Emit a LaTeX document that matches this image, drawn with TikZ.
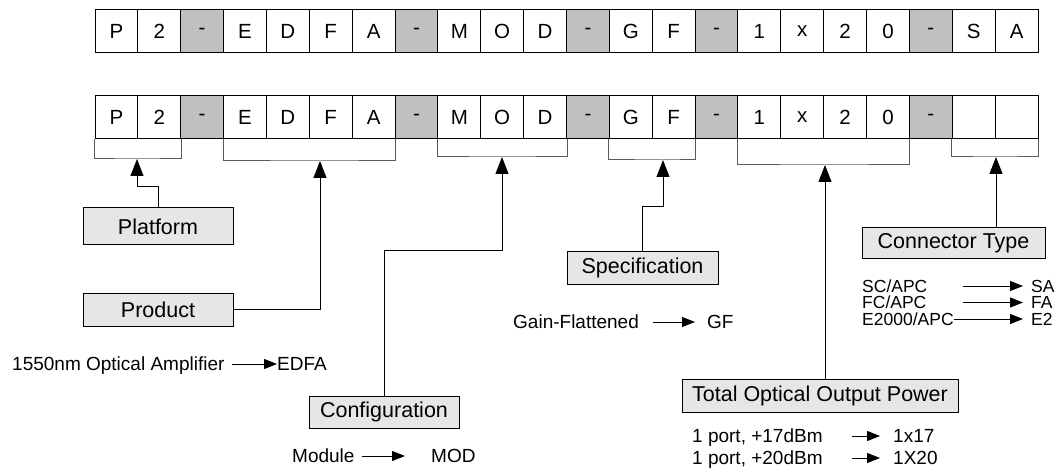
\documentclass[tikz,border=0pt]{standalone}
\usepackage{fontspec}
\setmainfont{Liberation Sans}
\usetikzlibrary{arrows.meta}
\definecolor{shade}{HTML}{C0C0C0}
\definecolor{boxfill}{HTML}{E6E6E6}
\definecolor{brk}{HTML}{5A5A5A}
\begin{document}
\begin{tikzpicture}[x=1pt,y=-1pt,
  cell/.style={draw, line width=1pt, minimum width=42.86pt, minimum height=43pt, inner sep=0pt, font=\fontsize{20.5}{20.5}\selectfont},
  dashcell/.style={cell, fill=shade},
  lbl/.style={draw, line width=1pt, fill=boxfill, inner sep=0pt, font=\fontsize{21.5}{21.5}\selectfont},
  txt/.style={inner sep=0pt, anchor=west, font=\fontsize{19}{19}\selectfont, text height=13.6pt, text depth=0pt},
  lst/.style={txt, font=\fontsize{17.5}{17.5}\selectfont, text height=12.5pt},
  bracket/.style={draw=brk, line width=1pt},
  arr/.style={line width=1pt, -{Triangle[length=17pt,width=13pt]}},
  sarr/.style={line width=1pt, -{Triangle[length=13pt,width=10pt]}}]
\useasboundingbox (0,0) rectangle (1063,473);

% top row
\foreach \t [count=\i] in {P,2,-,E,D,F,A,-,M,O,D,-,G,F,-,1,x,2,0,-,S,A}{
  \pgfmathsetmacro{\cx}{95+(\i-0.5)*42.864}
  \ifnum\i=3 \def\st{dashcell}\else\ifnum\i=8 \def\st{dashcell}\else\ifnum\i=12 \def\st{dashcell}\else\ifnum\i=15 \def\st{dashcell}\else\ifnum\i=20 \def\st{dashcell}\else\def\st{cell}\fi\fi\fi\fi\fi
  \node[\st] (a\i) at (\cx,31.5) {\t};
}
% second row
\foreach \t [count=\i] in {P,2,-,E,D,F,A,-,M,O,D,-,G,F,-,1,x,2,0,-,{},{}}{
  \pgfmathsetmacro{\cx}{95+(\i-0.5)*42.864}
  \ifnum\i=3 \def\st{dashcell}\else\ifnum\i=8 \def\st{dashcell}\else\ifnum\i=12 \def\st{dashcell}\else\ifnum\i=15 \def\st{dashcell}\else\ifnum\i=20 \def\st{dashcell}\else\def\st{cell}\fi\fi\fi\fi\fi
  \node[\st] (c\i) at (\cx,117.5) {\t};
}

% bracket bottoms (arrow tips)
\coordinate (br1) at (137,159);
\coordinate (br2) at (320,161);
\coordinate (br3) at (502,157);
\coordinate (br4) at (663,160);
\coordinate (br5) at (825,165);
\coordinate (br6) at (996,157);

\draw[bracket] (c1.south west) |- (br1) -| (c2.south east);
\draw[bracket] (c4.south west) |- (br2) -| (c7.south east);
\draw[bracket] (c9.south west) |- (br3) -| (c11.south east);
\draw[bracket] (c13.south west) |- (br4) -| (c14.south east);
\draw[bracket] (c16.south west) |- (br5) -| (c19.south east);
\draw[bracket] (c21.south west) |- (br6) -| (c22.south east);

% label boxes
\node[lbl, minimum width=150pt, minimum height=37pt] (plat) at (158,226.5) {Platform};
\node[lbl, minimum width=150pt, minimum height=33pt] (prod) at (158,309.5) {Product};
\node[lbl, minimum width=150pt, minimum height=32pt] (conf) at (384,412) {Configuration};
\node[lbl, minimum width=151pt, minimum height=32pt] (spec) at (642.5,268) {Specification};
\node[lbl, minimum width=276pt, minimum height=33pt] (total) at (820,395.5) {Total Optical Output Power};
\node[lbl, minimum width=183pt, minimum height=31pt] (conn) at (953.5,243.5) {Connector Type};

% connectors
\coordinate (k1) at (137,187);
\coordinate (k3) at (502,251);
\coordinate (k4) at (663,207);
\draw[arr] (plat.north) |- (k1) -- (br1);
\draw[arr] (prod.east) -| (br2);
\draw[arr] (conf.north) |- (k3) -- (br3);
\draw[arr] (spec.north) |- (k4) -- (br4);
\draw[arr] (total.north -| br5) -- (br5);
\draw[arr] (conn.north -| br6) -- (br6);

% explanations
\node[txt] (amp) at (12,364) {1550nm Optical Amplifier};
\node[txt] (edfa) at (277,364) {EDFA};
\draw[sarr] ([xshift=-45pt]edfa.west) -- (edfa.west);

\node[txt] (gain) at (513,322) {Gain-Flattened};
\node[txt] (gf) at (707,322) {GF};
\draw[sarr] ([xshift=-54pt]gf.west) -- ([xshift=-12pt]gf.west);

\node[txt] (module) at (292,456) {Module};
\node[txt] (mod) at (431,456) {MOD};
\draw[sarr] ([xshift=-69pt]mod.west) -- ([xshift=-26pt]mod.west);

\node[lst] (sc) at (862,286) {SC/APC};
\node[lst] (sa) at (1031,286) {SA};
\draw[sarr] ([xshift=-68pt]sa.west) -- ([xshift=-8pt]sa.west);
\node[lst] (fc) at (862,302.5) {FC/APC};
\node[lst] (fa) at (1031,302.5) {FA};
\draw[sarr] ([xshift=-68pt]fa.west) -- ([xshift=-8pt]fa.west);
\node[lst] (e2k) at (862,319) {E2000/APC};
\node[lst] (e2) at (1031,319) {E2};
\draw[sarr] (e2k.east) -- ([xshift=-8pt]e2.west);

\node[txt] (p17) at (692,436) {1 port, +17dBm};
\node[txt] (r17) at (893,436) {1x17};
\draw[sarr] ([xshift=-41pt]r17.west) -- ([xshift=-13pt]r17.west);
\node[txt] (p20) at (692,458) {1 port, +20dBm};
\node[txt] (r20) at (893,458) {1X20};
\draw[sarr] ([xshift=-41pt]r20.west) -- ([xshift=-13pt]r20.west);
\end{tikzpicture}
\end{document}
